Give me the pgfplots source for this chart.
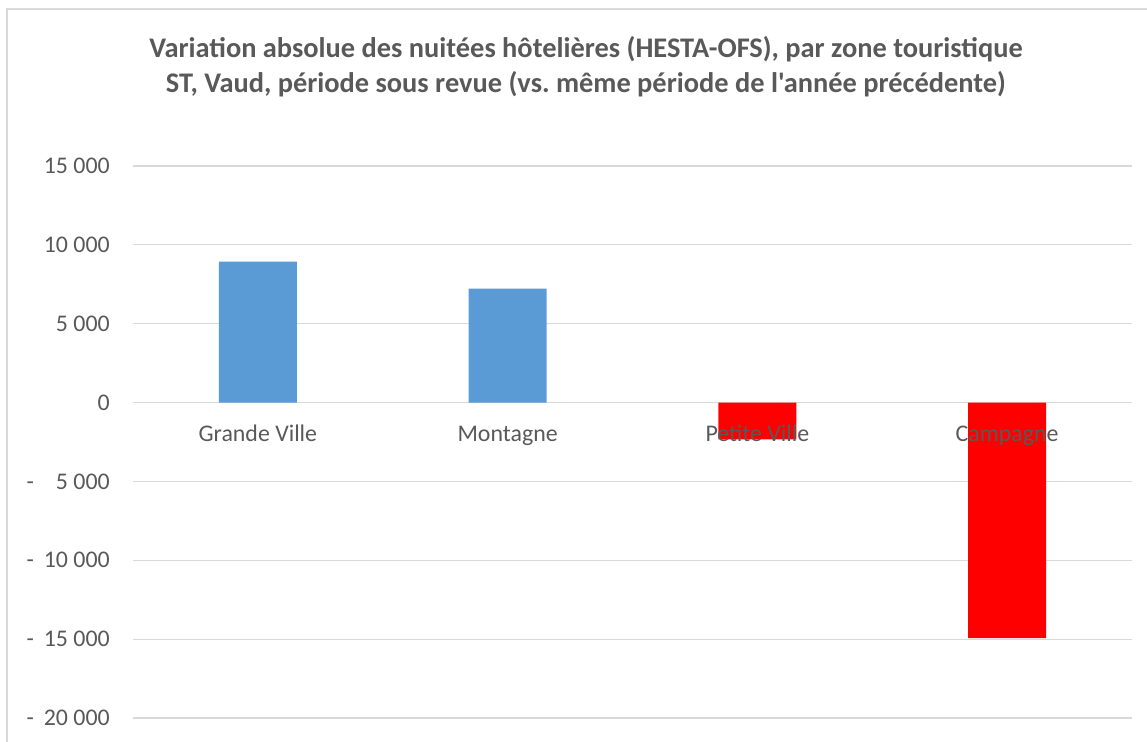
\documentclass[border=0pt]{standalone}
\usepackage{pgfplots}
\pgfplotsset{compat=1.18}
\usepackage{fontspec}
\setmainfont{Carlito}
\newfontfamily\titlefont{Carlito}
\frenchspacing
\definecolor{barblue}{HTML}{5B9BD5}
\definecolor{barred}{HTML}{FF0000}
\definecolor{gridgray}{HTML}{D9D9D9}
\definecolor{txtgray}{HTML}{595959}
\pgfplotsset{common/.style={
  scale only axis, width=749.25pt, height=414pt,
  at={(99.75pt,18pt)}, anchor=south west,
  xmin=-0.5, xmax=3.5, ymin=-20000, ymax=15000,
  scaled y ticks=false,
  axis line style={draw=none}, major tick length=0pt,
  tick label style={font=\fontsize{17.9pt}{21pt}\selectfont, text=txtgray},
}}
\begin{document}
\begin{tikzpicture}
\useasboundingbox (0,0) rectangle (860.25pt,556.5pt);
\draw[gridgray, line width=1.2pt] (5.25pt,0) -- (5.25pt,549.75pt) -- (860.25pt,549.75pt);
\node[align=center, text=txtgray, font=\titlefont\fontsize{21.3pt}{26.8pt}\selectfont\bfseries] at (439.5pt,506.5pt)
  {Variation absolue des nuitées hôtelières (HESTA-OFS), par zone touristique\\ST, Vaud, période sous revue (vs.\ même période de l'année précédente)};
\begin{axis}[
  common,
  ymajorgrids, grid style={gridgray, line width=0.9pt},
  ybar, bar width=58.5pt, bar shift=0pt,
  xtick={0,1,2,3}, xticklabels={},
  ytick={-20000,-15000,-10000,-5000,0,5000,10000,15000},
  yticklabels={\makebox[62.25pt]{-\hfill 20 000}, \makebox[62.25pt]{-\hfill 15 000}, \makebox[62.25pt]{-\hfill 10 000}, \makebox[62.25pt]{-\hfill 5 000}, 0, 5 000, 10 000, 15 000},
  yticklabel style={anchor=east, inner sep=0pt, xshift=-17.25pt},
]
\addplot[fill=barblue, draw=none] coordinates {(0,8930) (1,7230)};
\addplot[fill=barred, draw=none] coordinates {(2,-2340) (3,-14940)};
\end{axis}
\begin{axis}[
  common,
  ytick=\empty,
  xtick={0,1,2,3},
  xticklabels={Grande Ville, Montagne, Petite Ville, Campagne},
  xticklabel style={anchor=base, inner sep=0pt, yshift=207.2pt},
]
\end{axis}
\end{tikzpicture}
\end{document}
